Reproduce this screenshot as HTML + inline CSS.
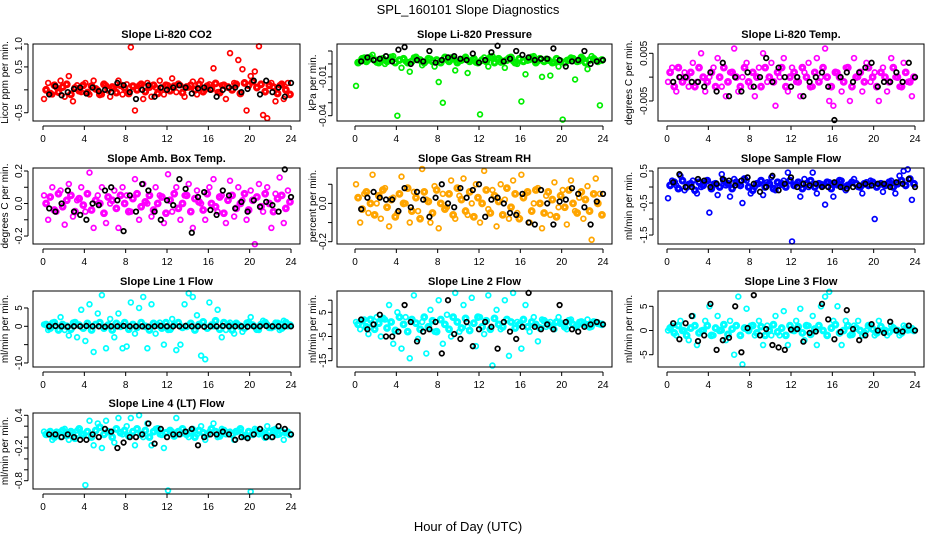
<!DOCTYPE html>
<html><head><meta charset="utf-8"><style>
body{margin:0;background:#fff}
svg{display:block;font-family:"Liberation Sans",Arial,sans-serif}
</style></head><body>
<svg id="chart" width="936" height="540" viewBox="0 0 936 540">
<rect width="936" height="540" fill="#fff"/>
<text x="468" y="14" font-size="13" text-anchor="middle">SPL_160101  Slope Diagnostics</text>
<text x="468" y="531" font-size="13" text-anchor="middle">Hour of Day (UTC)</text>
</svg>
<script>
const colorHours=[0.1,0.5,0.9,1.3,1.7,2.1,2.5,2.9,3.3,3.7,4.1,4.5,4.9,5.3,5.7,6.1,6.5,6.9,7.3,7.7,8.1,8.5,8.9,9.3,9.7,10.1,10.5,10.9,11.3,11.7,12.1,12.5,12.9,13.3,13.7,14.1,14.5,14.9,15.3,15.7,16.1,16.5,16.9,17.3,17.7,18.1,18.5,18.9,19.3,19.7,20.1,20.5,20.9,21.3,21.7,22.1,22.5,22.9,23.3,23.7];
const coreHours=[0.3,0.7,1.1,1.5,1.9,2.3,2.7,3.1,3.5,3.9,4.3,4.7,5.1,5.5,5.9,6.3,6.7,7.1,7.5,7.9,8.3,8.7,9.1,9.5,9.9,10.3,10.7,11.1,11.5,11.9,12.3,12.7,13.1,13.5,13.9,14.3,14.7,15.1,15.5,15.9,16.3,16.7,17.1,17.5,17.9,18.3,18.7,19.1,19.5,19.9,20.3,20.7,21.1,21.5,21.9,22.3,22.7,23.1,23.5,23.9];
const blackHours=[0.6,1.2,1.8,2.4,3.0,3.6,4.2,4.8,5.4,6.0,6.6,7.2,7.8,8.4,9.0,9.6,10.2,10.8,11.4,12.0,12.6,13.2,13.8,14.4,15.0,15.6,16.2,16.8,17.4,18.0,18.6,19.2,19.8,20.4,21.0,21.6,22.2,22.8,23.4,24.0];
const xTicks=[0,4,8,12,16,20,24];

const co2Color=[-0.2,0.15,-0.1,0.05,0.2,-0.15,0.3,-0.25,0.1,-0.05,0.15,-0.1,0.2,0.0,-0.1,0.1,-0.15,0.05,0.2,-0.1,0.12,0.93,-0.45,0.1,-0.2,0.15,-0.15,0.05,0.2,-0.1,0.1,0.25,-0.05,0.1,-0.15,0.05,0.18,-0.1,0.2,0.0,0.12,0.47,-0.05,0.1,-0.2,0.8,0.15,0.65,0.45,-0.45,0.3,0.4,0.95,-0.55,-0.62,0.15,-0.25,0.1,-0.2,0.15];
const co2Core=[0.0,-0.08,0.1,-0.05,0.06,0.12,-0.1,0.04,-0.02,0.1,-0.06,0.08,0.02,-0.1,0.12,0.0,0.06,-0.06,0.1,0.04,-0.08,0.08,0.0,0.12,-0.04,0.06,0.1,-0.08,0.04,0.1,-0.02,0.08,0.12,-0.06,0.06,0.1,0.0,0.12,-0.04,0.08,0.02,0.14,-0.06,0.1,0.06,0.0,0.12,-0.08,0.15,0.1,0.18,0.05,0.12,-0.04,0.1,0.06,-0.08,0.12,0.0,-0.1];
const co2Black=[-0.1,0.08,-0.12,-0.05,0.02,0.05,-0.08,0.05,-0.03,0.0,-0.05,0.15,0.1,-0.05,-0.2,0.0,0.1,-0.15,0.05,0.0,0.05,0.1,0.05,-0.08,0.03,0.05,0.0,-0.15,0.0,0.05,0.05,-0.05,0.02,0.2,-0.1,0.2,-0.05,0.05,-0.15,0.15];
const presColor=[-0.017,0.002,0.005,0.003,0.007,0.001,0.004,0,0.003,0.006,-0.040,-0.003,0.002,-0.006,0.005,0.003,-0.001,0.002,0.004,-0.002,-0.014,-0.030,0.003,0.005,-0.005,0.002,0.004,-0.007,0.003,0.001,-0.039,0.005,-0.002,0.006,0.004,0.001,-0.003,0.005,0.002,0,-0.029,-0.008,0.003,0.006,0.002,-0.010,0.004,-0.009,0.001,-0.002,-0.043,0.003,0.005,-0.012,0.002,0.004,-0.004,0.006,0.003,-0.032];
const presCore=[0.001,0.004,0.002,0.005,0.003,0.001,0.004,0.002,0.005,0.001,0.003,0.004,0.001,0.002,0.005,0.003,0.001,0.004,0.002,0.003,0.001,0.005,0.002,0.004,0.001,0.003,0.005,0.002,0.004,0.001,0.003,0.002,0.005,0.001,0.004,0.002,0.003,0.005,0.001,0.004,0.002,0.003,0.005,0.001,0.004,0.002,0.003,0.001,0.004,0.002,0.001,0.003,0.004,0.002,0.005,0.001,0.003,0.004,0.002,0.003];
const presBlack=[0.002,0.005,0.003,0.004,0.006,0.002,0.011,0.013,0,0.003,0.002,0.010,0.001,0.003,0.005,0.006,0.004,0.003,0.008,0.001,0.003,0.009,0.014,0.002,0.004,0.010,0.007,0.005,0.003,0.004,0.004,0.012,0.003,-0.002,0.002,0.003,0.010,0,0.002,0.003];
const tempColor=[-0.001,0.002,-0.003,0,0.001,-0.002,0.003,-0.001,0.005,-0.003,0,0.002,0.004,-0.002,-0.004,0.001,0.006,-0.003,0,0.003,-0.002,-0.004,0.002,0.005,-0.001,0.003,-0.006,0,0.004,-0.003,0.002,-0.001,-0.004,0.001,0.003,-0.002,0.004,0,0.006,-0.005,-0.006,0.001,-0.003,0.002,-0.005,0.004,0,-0.003,0.003,-0.001,0.001,-0.005,0.002,-0.003,0.004,0,-0.002,0.003,-0.001,-0.004];
const tempCore=[0.001,-0.002,0.002,-0.001,0,0.001,-0.002,0.002,0,-0.001,0.001,-0.002,0,0.002,-0.001,0.001,0,-0.002,0.002,-0.001,0.001,0,-0.002,0.002,0,-0.001,0.001,0.002,-0.002,0,0.001,-0.001,0.002,0,-0.002,0.001,-0.001,0.002,0,-0.002,0.001,0,-0.001,0.002,-0.002,0,0.001,-0.001,0.002,0,-0.002,0.001,0,-0.001,0.002,0,-0.002,0.001,-0.001,0];
const tempBlack=[-0.001,0,0,-0.001,-0.001,-0.002,0.001,-0.003,0.003,-0.004,0,-0.003,0.001,-0.002,0,0.004,-0.001,0.002,0,-0.002,0,-0.004,-0.001,0,0.001,-0.002,-0.009,0,0.001,-0.001,0.001,0.002,0.003,-0.002,-0.001,-0.001,0.001,-0.001,0.003,0];
const ambColor=[0.05,-0.1,0.1,-0.05,0.08,-0.13,0.12,-0.08,0.02,0.1,-0.05,0.19,-0.15,0.05,0.1,-0.12,0.0,0.08,-0.15,0.1,0.05,-0.05,0.15,-0.1,0.12,0.0,-0.08,0.1,0.05,-0.12,0.18,-0.05,0.1,-0.1,0.05,0.12,-0.15,0.08,0.0,-0.1,0.1,0.15,-0.05,0.05,-0.12,0.14,-0.08,0.1,0.02,-0.1,0.08,-0.25,0.12,-0.05,0.1,-0.15,0.06,0.16,-0.12,0.08];
const ambCore=[0.0,0.04,-0.04,0.06,-0.02,0.02,0.05,-0.05,0.03,-0.01,0.06,-0.04,0.02,0.0,-0.06,0.04,0.02,-0.03,0.05,0.0,-0.05,0.03,0.06,-0.02,0.01,0.05,-0.04,0.0,0.04,-0.06,0.02,0.06,-0.03,0.0,0.05,-0.05,0.03,0.01,-0.04,0.06,0.0,-0.02,0.04,-0.06,0.02,0.05,-0.03,0.0,0.06,-0.04,0.02,0.04,-0.02,0.06,0.0,-0.05,0.03,0.05,-0.03,0.01];
const ambBlack=[-0.03,-0.05,0.0,0.08,-0.05,-0.07,-0.1,0.0,-0.01,0.08,0.1,0.02,-0.17,0.05,-0.05,0.12,0.08,-0.05,-0.1,0.02,-0.01,0.15,0.09,-0.18,0.04,0.07,-0.04,-0.07,0.08,0.05,-0.03,0.01,-0.05,0.02,-0.02,0.01,-0.01,-0.05,0.21,0.04];
const rhColor=[0.1,-0.1,0.05,-0.05,0.15,0.0,-0.08,0.08,-0.12,0.03,-0.05,0.14,0.0,-0.1,0.06,-0.04,0.18,0.02,-0.1,0.09,-0.13,0.05,-0.02,0.12,-0.08,0.04,0.13,-0.06,0.0,0.1,-0.1,0.17,-0.03,0.07,-0.12,0.1,0.02,-0.08,0.12,-0.05,0.15,0.05,-0.1,0.0,0.08,-0.13,0.04,-0.06,0.11,-0.02,0.07,-0.11,0.12,-0.04,0.03,-0.08,0.09,-0.19,0.13,0.05];
const rhCore=[0.03,-0.03,0.06,0.0,-0.06,0.04,0.07,-0.02,0.02,-0.07,0.05,0.0,0.08,-0.04,0.03,-0.08,0.06,0.01,-0.05,0.07,0.0,-0.03,0.05,-0.06,0.08,0.02,-0.04,0.06,-0.07,0.03,0.0,0.07,-0.05,0.04,0.01,-0.06,0.08,-0.02,0.05,-0.08,0.03,0.06,-0.04,0.07,0.0,-0.05,0.06,0.02,-0.07,0.04,-0.02,0.07,0.0,-0.05,0.06,0.02,-0.04,0.05,0.0,-0.06];
const rhBlack=[-0.03,0.03,0.06,0.03,0.02,0.02,-0.04,0.08,-0.02,0.06,0.02,-0.07,0.03,0.1,0.0,-0.02,0.08,0.03,0.07,0.1,-0.07,0.02,0.03,0.0,-0.05,-0.06,0.05,-0.1,-0.11,0.07,0.0,-0.11,0.01,0.02,0.08,0.05,-0.02,-0.11,0.01,0.05];
const sampColor=[-0.35,0.2,0.05,0.35,-0.1,0.1,0.2,-0.2,0.0,0.15,-0.8,0.1,-0.25,0.4,0.05,-0.3,0.25,0.1,-0.5,0.2,-0.2,0.0,0.1,-0.25,0.15,0.3,-0.1,0.05,0.2,0.45,-1.7,0.1,-0.3,0.25,0.0,0.45,-0.2,0.1,-0.55,0.15,-0.3,0.05,0.2,-0.1,0.1,0.25,0.0,-0.2,0.15,0.2,-1.0,0.1,-0.15,0.05,0.2,-0.2,0.35,0.5,0.55,-0.4];
const sampCore=[0.05,0.15,-0.05,0.2,0.0,0.1,-0.1,0.15,0.05,0.2,-0.05,0.1,0.0,0.2,0.1,-0.05,0.15,0.05,0.25,0.0,-0.1,0.1,0.2,0.0,0.1,-0.05,0.15,0.1,0.0,0.2,0.05,0.15,-0.05,0.1,0.2,0.0,0.1,0.05,0.15,-0.05,0.1,0.2,0.0,0.05,0.15,0.1,0.0,0.1,0.05,0.15,0.0,0.1,0.05,0.15,0.0,0.1,0.2,0.05,0.25,0.1];
const sampBlack=[0.15,0.4,0.0,0.0,0.25,0.2,0.0,0.1,0.25,0.2,0.05,0.2,0.3,0.1,-0.15,0.0,0.35,-0.1,0.1,0.3,0.0,0.1,0.05,0.1,0.0,0.0,0.15,0.0,-0.05,0.0,0.05,0.1,0.05,0.1,0.1,0.0,0.15,0.1,0.25,0.0];
const l1Color=[0.5,-1,1,0,2.5,-1,-2.5,1,-3,4.5,-4,6,-7,3.5,8.5,-6,2,-3,3.5,-6,-5.5,6.5,-2,5,8,-6,6,-2,1,-5,-1,2,-6.5,-5,6,9,8,3,-8,-9,6.5,0,4.5,-3,-1,1,-2,0.5,-1.5,1,2.5,0,-1,1.5,0.5,-0.5,1,-1,1.5,0];
const l1Core=[0.5,-0.5,1,-1,0.5,0,-0.8,1,0.3,-0.5,0.8,-1,0.5,1,-0.5,0.3,-1,0.8,0,1,-0.8,0.5,-0.3,1,0,-1,0.8,0.3,-0.5,1,-0.8,0.5,1,-0.3,0,0.8,-1,0.5,1.2,-0.5,0.3,1.5,-0.8,1,0.5,-1,0.8,0,-0.5,1,0.3,-0.8,0.5,1,-0.3,0,0.8,-0.5,1,0.3];
const l1Black=[0,0.1,0,-0.1,0,0,0.1,0,0,-0.1,0,0,0.1,0,0,0,-0.1,0,0.1,0,0,0,0.1,0,0,-0.1,0,0,0.1,0,0,0,-0.1,0,0,0.1,0,0,0,0];
const l2Color=[1,-2,2,-4,0,3,-5,2,8,-8,5,-10,3,-14,12,-6,1,-12,6,-3,10,-8,4,-5,13,-3,8,-1,11,-9,3,-4,12,-17,6,-2,10,-13,13,1,-10,8,-3,3,-7,2,-1,1,-2,3,0,-2,2,-1,1,0,2,-1,1,0];
const l2Core=[0,1.5,-1,2,-2,0.5,2.5,-1.5,1,-2.5,3,0,-3,2,0.5,-2,3,-1,1.5,-3,2,0,-2,3,1,-1.5,2.5,-2.5,0.5,3,-1,1.5,-2,2.5,0,-1,2,1,-1.5,0,2,-1,1,0,-1.5,1.5,0,-1,1,0.5,-1,1.5,0,-0.5,1,0,-1,1,0.5,0];
const l2Black=[2,-2,0,4,-5,-5,-3,8,1,-7,-3,-2,1,-12,10,-4,-6,1,-9,-2,1,-1,-10,1,-3,-6,-1,13,-1,-2,0,-2,8,1,-2,-3,-1,0,1,0];
const l3Color=[0,1,-1,2,0,-2,3,-3,0,2,5,-1,3,0,-2,2,-5,7,-7,4.5,1,-1,2,-3,1,-1,3,-1,4,-3,0,2,4.5,-2,1,3,-3,5,7,8,2,5,-3,2,-1,1,2,-1,0,1,-1,2,0,-1,1,0,-1,1,0,0.5];
const l3Core=[0.5,-0.5,1,0,-1,0.5,1,-0.5,0,1,-1,0.5,0,1.2,-0.8,0.3,1,-1,0.5,0,1,-0.5,0.8,-1,0,1.2,-0.3,0.5,-1,1,0,0.8,-0.5,1,-0.8,0.3,1,0,-1,0.5,1.2,-0.5,0,1,-0.8,0.5,0,-0.5,1,0.3,-0.5,0.8,0,-0.3,0.5,0,-0.5,0.5,0.2,0];
const l3Black=[1.5,-1.8,1.5,3,-2.2,-1,5.5,-4,-2,-1.5,5,-4.5,0.5,7.3,-1,0.3,-3,-3.5,-4,0.2,0.3,-2.3,-0.5,-0.2,5.5,2.3,-1.8,-0.3,4.2,0.3,-2,-1,1.3,0,-0.5,1.8,0,-0.2,1,0];
const l4Color=[0.1,0.05,-0.05,0.1,0.0,0.15,-0.05,0.08,0.12,0.05,-0.88,0.3,-0.15,0.25,-0.2,0.3,0.1,-0.1,0.35,0.05,0.2,0.35,-0.15,0.4,0.0,0.25,-0.15,0.15,0.05,-0.2,-0.98,0.1,0.35,0.05,0.1,0.0,0.15,0.05,0.2,-0.05,0.1,0.25,0.0,0.15,0.05,0.1,-0.05,0.12,0.05,0.0,-1.0,0.15,0.05,0.1,0.2,0.0,0.15,0.05,-0.05,0.1];
const l4Core=[0.05,0.1,0.0,0.08,0.12,0.03,0.1,-0.02,0.15,0.05,0.1,0.0,0.12,0.18,0.05,0.1,0.0,0.15,0.08,0.12,0.02,0.1,0.15,0.05,0.12,0.0,0.1,0.15,0.05,0.08,0.12,0.02,0.1,0.15,0.05,0.1,0.0,0.12,0.08,0.05,0.15,0.1,0.02,0.12,0.08,0.05,0.1,0.15,0.02,0.1,0.05,0.12,0.08,0.0,0.1,0.12,0.05,0.1,0.08,0.05];
const l4Black=[0.05,0.05,0.0,0.05,0.0,-0.05,-0.05,0.05,0.0,0.15,0.1,-0.2,-0.1,0.0,0.0,0.05,0.25,-0.12,0.15,0.0,0.05,0.05,0.1,0.15,-0.15,0.0,0.05,0.05,0.1,0.05,-0.05,0.0,-0.02,0.05,0.15,0.0,0.0,0.2,0.15,0.05];

const NS='http://www.w3.org/2000/svg';
const svg=document.getElementById('chart');
const cols=[{l:33,r:300,x0:43,x24:291,yt:25},{l:337,r:612,x0:355,x24:603,yt:21},{l:658,r:924,x0:667,x24:915,yt:26}];
const rows=[{t:44,b:121},{t:168,b:244},{t:291,b:367},{t:413,b:489}];
const panels=[
 {id:'co2',title:'Slope Li-820 CO2',yl:'Licor ppm per min.',c:0,r:0,ymin:-0.68,ymax:1.0,ticks:[1.0,0.5,0,-0.5],labels:['1.0','0.5','','-0.5'],col:'#ff0000',cv:co2Color,kv:co2Core,bv:co2Black},
 {id:'pressure',title:'Slope Li-820 Pressure',yl:'kPa per min.',c:1,r:0,ymin:-0.0441,ymax:0.0154,ticks:[0.01,0,-0.01,-0.02,-0.03,-0.04],labels:['','','-0.01','','','-0.04'],col:'#00ee00',cv:presColor,kv:presCore,bv:presBlack},
 {id:'licor-temp',title:'Slope Li-820 Temp.',yl:'degrees C per min.',c:2,r:0,ymin:-0.0092,ymax:0.00695,ticks:[0.005,0,-0.005],labels:['0.005','','-0.005'],col:'#ff00ff',cv:tempColor,kv:tempCore,bv:tempBlack},
 {id:'amb-temp',title:'Slope Amb. Box Temp.',yl:'degrees C per min.',c:0,r:1,ymin:-0.249,ymax:0.2185,ticks:[0.2,0.1,0,-0.1,-0.2],labels:['0.2','','0.0','','-0.2'],col:'#ff00ff',cv:ambColor,kv:ambCore,bv:ambBlack},
 {id:'rh',title:'Slope Gas Stream RH',yl:'percent per min.',c:1,r:1,ymin:-0.212,ymax:0.185,ticks:[0.1,0,-0.1,-0.2],labels:['','0.0','','-0.2'],col:'#ffa500',cv:rhColor,kv:rhCore,bv:rhBlack},
 {id:'sample-flow',title:'Slope Sample Flow',yl:'ml/min per min.',c:2,r:1,ymin:-1.78,ymax:0.594,ticks:[0.5,0,-0.5,-1.0,-1.5],labels:['0.5','','-0.5','','-1.5'],col:'#0000ff',cv:sampColor,kv:sampCore,bv:sampBlack},
 {id:'line1',title:'Slope Line 1 Flow',yl:'ml/min per min.',c:0,r:2,ymin:-11.1,ymax:9.63,ticks:[5,0,-5,-10],labels:['5','0','','-10'],col:'#00ffff',cv:l1Color,kv:l1Core,bv:l1Black},
 {id:'line2',title:'Slope Line 2 Flow',yl:'ml/min per min.',c:1,r:2,ymin:-17.6,ymax:13.8,ticks:[10,5,0,-5,-10,-15],labels:['','5','','-5','','-15'],col:'#00ffff',cv:l2Color,kv:l2Core,bv:l2Black},
 {id:'line3',title:'Slope Line 3 Flow',yl:'ml/min per min.',c:2,r:2,ymin:-7.54,ymax:8.16,ticks:[5,0,-5],labels:['5','0','-5'],col:'#00ffff',cv:l3Color,kv:l3Core,bv:l3Black},
 {id:'line4',title:'Slope Line 4 (LT) Flow',yl:'ml/min per min.',c:0,r:3,ymin:-0.952,ymax:0.442,ticks:[0.4,0.2,0,-0.2,-0.4,-0.6,-0.8],labels:['0.4','','','-0.2','','','-0.8'],col:'#00ffff',cv:l4Color,kv:l4Core,bv:l4Black}
];
function el(tag,attrs,parent){const e=document.createElementNS(NS,tag);for(const k in attrs)e.setAttribute(k,attrs[k]);parent.appendChild(e);return e;}
panels.forEach(p=>{
 const C=cols[p.c],R=rows[p.r];
 const g=el('g',{},svg);
 
 
 const xs=h=>C.x0+(C.x24-C.x0)*h/24;
 const ys=v=>R.b-(v-p.ymin)/(p.ymax-p.ymin)*(R.b-R.t);
 const t=el('text',{x:(C.l+C.r)/2,y:R.t-6,'font-size':11,'font-weight':'bold','text-anchor':'middle'},g);
 t.textContent=p.title;
 
 
 const yl=el('text',{transform:`translate(${C.l-C.yt},${(R.t+R.b)/2}) rotate(-90)`,'font-size':10,'text-anchor':'middle'},g);
 yl.textContent=p.yl;
 
 
 const pg=el('g',{fill:'none','stroke-width':1.7},g);
 
 
 p.kv.forEach((v,i)=>{
  const c=el('circle',{cx:xs(coreHours[i]),cy:ys(v),r:2.4,stroke:p.col,'stroke-width':3},pg);
  
  
 });
 p.cv.forEach((v,i)=>{
  const c=el('circle',{cx:xs(colorHours[i]),cy:ys(v),r:2.4,stroke:p.col},pg);
  
  
 });
 p.bv.forEach((v,i)=>{
  const c=el('circle',{cx:xs(blackHours[i]),cy:ys(v),r:2.3,stroke:'#000'},pg);
  
  
 });
 const fr=el('rect',{x:C.l,y:R.t,width:C.r-C.l,height:R.b-R.t,fill:'none',stroke:'#000','stroke-width':1},g);
 
 
 const xa=el('g',{'font-size':10,'text-anchor':'middle'},g);
 
 
 el('line',{x1:xs(0),x2:xs(24),y1:R.b+5,y2:R.b+5,stroke:'#000'},xa);
 xTicks.forEach(h=>{
  el('line',{x1:xs(h),x2:xs(h),y1:R.b+5,y2:R.b+9,stroke:'#000'},xa);
  const tx=el('text',{x:xs(h),y:R.b+21},xa);tx.textContent=h;
 });
 const ya=el('g',{'font-size':10,'text-anchor':'middle'},g);
 
 
 el('line',{x1:C.l-5,x2:C.l-5,y1:ys(p.ticks[0]),y2:ys(p.ticks[p.ticks.length-1]),stroke:'#000'},ya);
 p.ticks.forEach((v,i)=>{
  el('line',{x1:C.l-9,x2:C.l-5,y1:ys(v),y2:ys(v),stroke:'#000'},ya);
  if(p.labels[i]){const ty=el('text',{transform:`translate(${C.l-11},${ys(v)}) rotate(-90)`},ya);ty.textContent=p.labels[i];}
 });
});
</script>
</body></html>
